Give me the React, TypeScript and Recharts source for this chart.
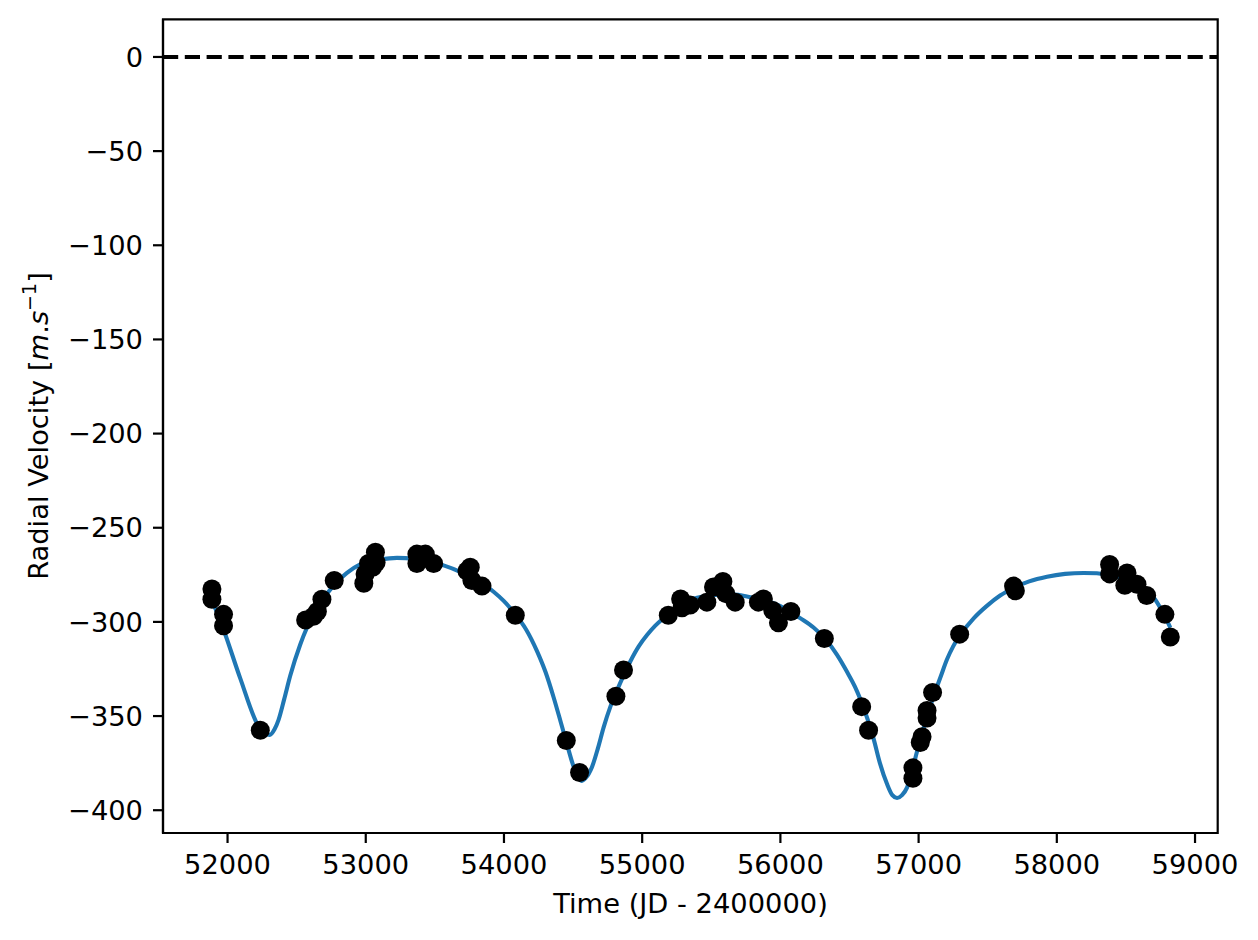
import React from "react";
import {
  ComposedChart,
  Line,
  Scatter,
  XAxis,
  YAxis,
  ReferenceLine,
  ReferenceArea,
} from "recharts";

// Model curve (time, radial velocity)
const modelTime = [
  51880, 51930, 51971, 52092, 52224, 52270, 52305, 52340, 52369, 52410, 52454,
  52526, 52575, 52640, 52719, 52790, 52864, 52960, 53100, 53226, 53350, 53450,
  53563, 53700, 53805, 53925, 54000, 54082, 54160, 54239, 54300, 54359, 54410,
  54456, 54500, 54540, 54560, 54590, 54637, 54680, 54721, 54770, 54817, 54865,
  54914, 54975, 55035, 55095, 55155, 55240, 55324, 55440, 55565, 55660, 55758,
  55851, 55951, 56050, 56143, 56240, 56336, 56410, 56482, 56540, 56578, 56630,
  56674, 56720, 56771, 56810, 56844, 56880, 56916, 56950, 56988, 57050, 57108,
  57160, 57205, 57250, 57301, 57400, 57494, 57590, 57687, 57800, 57929, 58060,
  58194, 58290, 58363, 58450, 58532, 58620, 58701, 58760, 58821,
];
const modelRV = [
  -288, -296, -304, -330, -355.5, -359.5, -360, -357, -352, -341, -328.5, -312,
  -303, -293.5, -285, -279, -274, -269.5, -267, -266, -266.5, -268, -270, -274,
  -278, -284, -289, -296, -304, -315.5, -326.5, -340, -353, -365, -376, -383,
  -384.5, -383, -377, -367, -356, -345, -336.5, -328.5, -321, -313, -307, -302,
  -298, -293, -289, -286.5, -285.5, -285.5, -286.5, -288, -290, -293.5, -298,
  -303, -310, -317.5, -326.5, -334.5, -341, -351.5, -362, -375, -386, -392,
  -393.5, -392, -388, -380, -369, -353, -339.5, -329, -320, -313, -307, -298,
  -291.5, -286, -282, -278.5, -276, -274.5, -274, -274.2, -275, -276.5, -278.5,
  -282, -287, -294, -303,
];

// Observations (time, radial velocity)
const obsTime = [
  51887, 51887, 51971, 51971, 52237, 52565, 52622, 52650, 52683, 52772, 52986,
  52995, 53020, 53050, 53070, 53075, 53370, 53370, 53431, 53491, 53732, 53756,
  53768, 53841, 54082, 54451, 54547, 54810, 54865, 55189, 55278, 55288, 55347,
  55468, 55516, 55584, 55605, 55673, 55841, 55877, 55945, 55986, 56076, 56318,
  56588, 56638, 56959, 56959, 57012, 57025, 57061, 57061, 57101, 57297, 57687,
  57700, 58382, 58382, 58508, 58492, 58580, 58650, 58782, 58821,
];
const obsRV = [
  -282.5, -288, -296, -302, -357.5, -299, -297, -294.5, -288, -278, -279.5,
  -274.5, -269, -271, -263, -268.5, -264, -269, -264, -269, -273, -271, -278,
  -281, -296.5, -363, -380, -339.5, -325.5, -296.5, -287.8, -292.5, -291,
  -289.5, -281.5, -278.5, -285, -289.5, -289.5, -287.8, -294, -300.5, -294.5,
  -308.8, -345, -357.5, -377.5, -383, -364, -361, -347, -351, -337.5, -306.5,
  -281, -283.5, -269.5, -274.5, -274, -280.5, -280, -286, -296, -308,
];

const xTicks = [52000, 53000, 54000, 55000, 56000, 57000, 58000, 59000];
const yTicks = [0, -50, -100, -150, -200, -250, -300, -350, -400];
const xDomain = [51533, 59164];
const yDomain = [-412.1, 20];

const modelData = modelTime.map((t, i) => ({ t, v: modelRV[i] }));
const obsData = obsTime.map((t, i) => ({ t, v: obsRV[i] }));

const FONT = "DejaVu Sans";
const FS = 27.3;

const fmtY = (v: number) => (v < 0 ? "\u2212" + Math.abs(v) : String(v));

const Dot = (props: any) => (
  <circle cx={props.cx} cy={props.cy} r={9.5} fill="#000" stroke="none" />
);

const YLabel = () => (
  <text
    transform="translate(40, 418) rotate(-90)"
    textAnchor="middle"
    fontFamily={FONT}
    fontSize={FS}
    fill="#000"
  >
    <tspan>Radial Velocity [</tspan>
    <tspan fontStyle="italic">m</tspan>
    <tspan>.</tspan>
    <tspan fontStyle="italic">s</tspan>
    <tspan fontSize={19} dy={-12}>
      {"\u22121"}
    </tspan>
    <tspan dy={12}>]</tspan>
  </text>
);

const XLabel = () => (
  <text
    x={682.5}
    y={905}
    textAnchor="middle"
    fontFamily={FONT}
    fontSize={FS}
    fill="#000"
  >
    Time (JD - 2400000)
  </text>
);

export default function App() {
  return (
    <div style={{ width: 1250, height: 932 }}>
      <ComposedChart
        width={1250}
        height={932}
        margin={{ top: 11.3, right: 40.3, left: 0, bottom: 0 }}
      >
        <XAxis
          dataKey="t"
          type="number"
          domain={xDomain}
          ticks={xTicks}
          allowDataOverflow
          height={107}
          tickSize={10}
          tickMargin={12}
          tick={{ fill: "#000", fontSize: FS, fontFamily: FONT }}
          tickLine={{ stroke: "#000", strokeWidth: 2.2 }}
          axisLine={{ stroke: "#000", strokeWidth: 2.2 }}
          label={{ content: () => <XLabel /> }}
        />
        <YAxis
          type="number"
          domain={yDomain}
          ticks={yTicks}
          allowDataOverflow
          width={155}
          tickSize={10}
          tickMargin={10}
          tickFormatter={fmtY}
          tick={{ fill: "#000", fontSize: FS, fontFamily: FONT }}
          tickLine={{ stroke: "#000", strokeWidth: 2.2 }}
          axisLine={{ stroke: "#000", strokeWidth: 2.2 }}
          label={{ content: () => <YLabel /> }}
        />
        <ReferenceLine
          y={0}
          stroke="#000"
          strokeWidth={4.1}
          strokeDasharray="15.2 6.6"
          ifOverflow="visible"
        />
        <Line
          data={modelData}
          dataKey="v"
          type="monotone"
          stroke="#1f77b4"
          strokeWidth={4.1}
          dot={false}
          activeDot={false}
          isAnimationActive={false}
        />
        <Scatter
          data={obsData}
          dataKey="v"
          fill="#000"
          shape={Dot}
          isAnimationActive={false}
        />
        <ReferenceArea
          x1={xDomain[0]}
          x2={xDomain[1]}
          y1={yDomain[0]}
          y2={yDomain[1]}
          fill="none"
          fillOpacity={0}
          stroke="#000"
          strokeWidth={2.2}
          ifOverflow="visible"
        />
      </ComposedChart>
    </div>
  );
}
